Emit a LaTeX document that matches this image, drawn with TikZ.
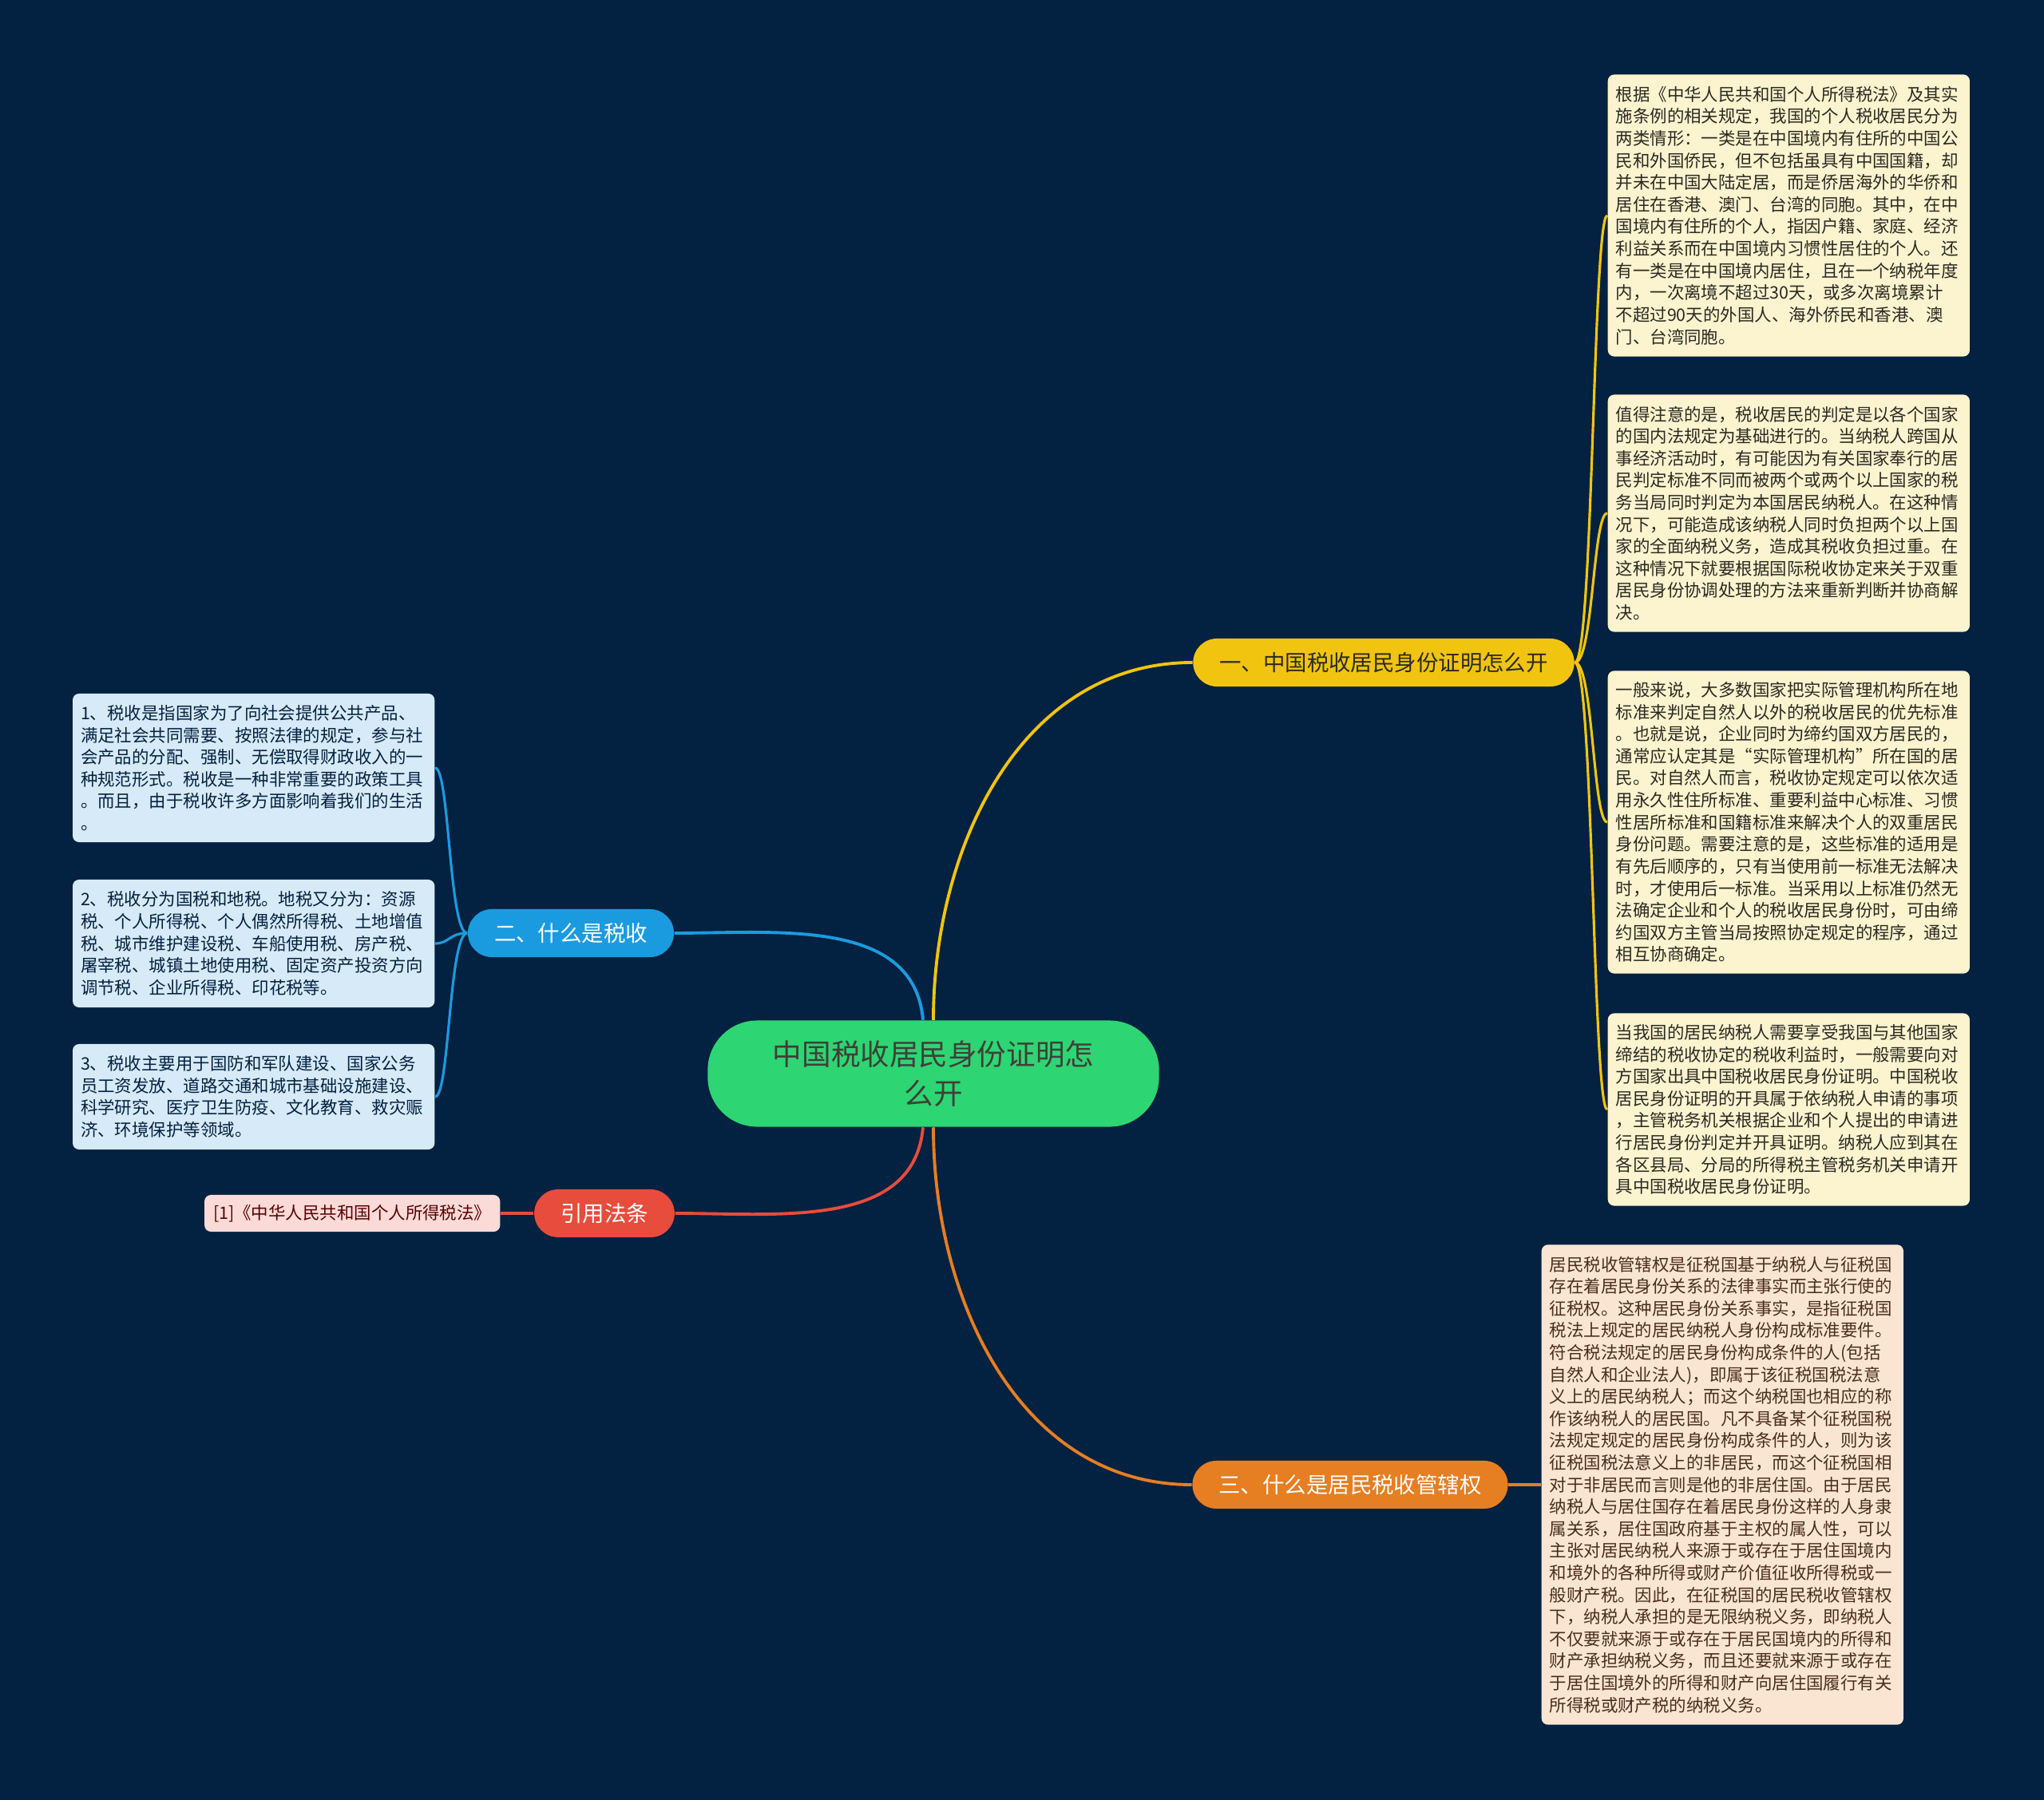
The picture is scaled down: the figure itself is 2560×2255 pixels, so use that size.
\documentclass[tikz,border=0pt]{standalone}
\usepackage{fontspec}
\setmainfont{Noto Sans CJK SC}
\usepackage{tikz}
\usepackage{xcolor}
\usetikzlibrary{positioning}
\definecolor{txnavy}{HTML}{032140}
\definecolor{txgreen}{HTML}{2ED573}
\definecolor{txyellow}{HTML}{F1C40F}
\definecolor{txblue}{HTML}{1A9BE0}
\definecolor{txorange}{HTML}{E67E22}
\definecolor{txred}{HTML}{E74C3C}
\definecolor{txcream}{HTML}{FCF3CF}
\definecolor{txpeach}{HTML}{FAE5D3}
\definecolor{txsky}{HTML}{D6EAF8}
\definecolor{txpink}{HTML}{FADBD8}
\definecolor{txink}{HTML}{2A2A22}
\definecolor{txbrown}{HTML}{4A2E1C}
\tikzset{
  rootNode/.style={fill=txgreen, text=txink!90, rounded corners=0.62cm, minimum width=5.65cm, minimum height=1.33cm, align=center, font=\fontsize{10.4}{13.9}\selectfont},
  topicNode/.style={rounded corners=0.3cm, minimum height=0.6cm, inner xsep=0.33cm, inner ysep=0pt, font=\fontsize{7.8}{9}\selectfont},
  leafNote/.style={rounded corners=0.08cm, text width=4.33cm, inner xsep=0.1cm, inner ysep=0.06cm, align=left, font=\fontsize{6.1}{7.85}\selectfont},
  yellowNote/.style={leafNote, fill=txcream, text=txink},
  peachNote/.style={leafNote, fill=txpeach, text=txbrown},
  skyNote/.style={leafNote, fill=txsky, text=txnavy},
  mainLink/.style={line width=1.1pt},
  subLink/.style={line width=0.9pt}
}
\begin{document}
\begin{tikzpicture}[x=0.01cm,y=-0.01cm]
  \fill[txnavy] (0,0) rectangle (2560,2255);
  % root and main topics
  \node[rootNode] (root) at (1169,1345) {中国税收居民身份证明怎\\么开};
  \node[topicNode, fill=txyellow, text=txink] (certify) at (1733,830) {一、中国税收居民身份证明怎么开};
  \node[topicNode, fill=txblue, text=white] (whatTax) at (715,1169) {二、什么是税收};
  \node[topicNode, fill=txorange, text=white] (power) at (1691,1860) {三、什么是居民税收管辖权};
  \node[topicNode, fill=txred, text=white] (law) at (757,1520) {引用法条};
  % notes on the right
  \node[yellowNote, anchor=west, minimum height=3.53cm] (noteA) at (2013,270) {根据《中华人民共和国个人所得税法》及其实\\施条例的相关规定，我国的个人税收居民分为\\两类情形：一类是在中国境内有住所的中国公\\民和外国侨民，但不包括虽具有中国国籍，却\\并未在中国大陆定居，而是侨居海外的华侨和\\居住在香港、澳门、台湾的同胞。其中，在中\\国境内有住所的个人，指因户籍、家庭、经济\\利益关系而在中国境内习惯性居住的个人。还\\有一类是在中国境内居住，且在一个纳税年度\\内，一次离境不超过30天，或多次离境累计\\不超过90天的外国人、海外侨民和香港、澳\\门、台湾同胞。};
  \node[yellowNote, anchor=west, minimum height=2.97cm] (noteB) at (2013,643) {值得注意的是，税收居民的判定是以各个国家\\的国内法规定为基础进行的。当纳税人跨国从\\事经济活动时，有可能因为有关国家奉行的居\\民判定标准不同而被两个或两个以上国家的税\\务当局同时判定为本国居民纳税人。在这种情\\况下，可能造成该纳税人同时负担两个以上国\\家的全面纳税义务，造成其税收负担过重。在\\这种情况下就要根据国际税收协定来关于双重\\居民身份协调处理的方法来重新判断并协商解\\决。};
  \node[yellowNote, anchor=west, minimum height=3.79cm] (noteC) at (2013,1030) {一般来说，大多数国家把实际管理机构所在地\\标准来判定自然人以外的税收居民的优先标准\\。也就是说，企业同时为缔约国双方居民的，\\通常应认定其是“实际管理机构”所在国的居\\民。对自然人而言，税收协定规定可以依次适\\用永久性住所标准、重要利益中心标准、习惯\\性居所标准和国籍标准来解决个人的双重居民\\身份问题。需要注意的是，这些标准的适用是\\有先后顺序的，只有当使用前一标准无法解决\\时，才使用后一标准。当采用以上标准仍然无\\法确定企业和个人的税收居民身份时，可由缔\\约国双方主管当局按照协定规定的程序，通过\\相互协商确定。};
  \node[yellowNote, anchor=west, minimum height=2.41cm] (noteD) at (2013,1390) {当我国的居民纳税人需要享受我国与其他国家\\缔结的税收协定的税收利益时，一般需要向对\\方国家出具中国税收居民身份证明。中国税收\\居民身份证明的开具属于依纳税人申请的事项\\，主管税务机关根据企业和个人提出的申请进\\行居民身份判定并开具证明。纳税人应到其在\\各区县局、分局的所得税主管税务机关申请开\\具中国税收居民身份证明。};
  \node[peachNote, anchor=west, minimum height=6.01cm] (noteE) at (1930,1860) {居民税收管辖权是征税国基于纳税人与征税国\\存在着居民身份关系的法律事实而主张行使的\\征税权。这种居民身份关系事实，是指征税国\\税法上规定的居民纳税人身份构成标准要件。\\符合税法规定的居民身份构成条件的人(包括\\自然人和企业法人)，即属于该征税国税法意\\义上的居民纳税人；而这个纳税国也相应的称\\作该纳税人的居民国。凡不具备某个征税国税\\法规定规定的居民身份构成条件的人，则为该\\征税国税法意义上的非居民，而这个征税国相\\对于非居民而言则是他的非居住国。由于居民\\纳税人与居住国存在着居民身份这样的人身隶\\属关系，居住国政府基于主权的属人性，可以\\主张对居民纳税人来源于或存在于居住国境内\\和境外的各种所得或财产价值征收所得税或一\\般财产税。因此，在征税国的居民税收管辖权\\下，纳税人承担的是无限纳税义务，即纳税人\\不仅要就来源于或存在于居民国境内的所得和\\财产承担纳税义务，而且还要就来源于或存在\\于居住国境外的所得和财产向居住国履行有关\\所得税或财产税的纳税义务。};
  % notes on the left
  \node[skyNote, anchor=east, minimum height=1.86cm] (taxOne) at (545,962) {1、税收是指国家为了向社会提供公共产品、\\满足社会共同需要、按照法律的规定，参与社\\会产品的分配、强制、无偿取得财政收入的一\\种规范形式。税收是一种非常重要的政策工具\\。而且，由于税收许多方面影响着我们的生活\\。};
  \node[skyNote, anchor=east, minimum height=1.60cm] (taxTwo) at (545,1182) {2、税收分为国税和地税。地税又分为：资源\\税、个人所得税、个人偶然所得税、土地增值\\税、城市维护建设税、车船使用税、房产税、\\屠宰税、城镇土地使用税、固定资产投资方向\\调节税、企业所得税、印花税等。};
  \node[skyNote, anchor=east, minimum height=1.32cm] (taxThree) at (545,1374) {3、税收主要用于国防和军队建设、国家公务\\员工资发放、道路交通和城市基础设施建设、\\科学研究、医疗卫生防疫、文化教育、救灾赈\\济、环境保护等领域。};
  \node[leafNote, text width=, fill=txpink, text=red!35!black, anchor=east, minimum height=0.46cm, inner xsep=0.11cm] (lawRef) at (627,1520) {[1]《中华人民共和国个人所得税法》};
  % links from the root
  \draw[mainLink, txyellow] (root.north) to[out=90, in=180] (certify.west);
  \draw[mainLink, txblue] ([xshift=-0.13cm]root.north) to[out=95, in=0] (whatTax.east);
  \draw[mainLink, txred] ([xshift=-0.13cm]root.south) to[out=-95, in=0] (law.east);
  \draw[mainLink, txorange] (root.south) to[out=-90, in=180] (power.west);
  % links to the notes
  \foreach \n in {noteA,noteB,noteC,noteD}
    \draw[subLink, txyellow] (certify.east) .. controls +(23,0) and +(-18,0) .. (\n.west);
  \foreach \n in {taxOne,taxTwo,taxThree}
    \draw[subLink, txblue] (whatTax.west) .. controls +(-23,0) and +(18,0) .. (\n.east);
  \draw[subLink, txorange] (power.east) -- (noteE.west);
  \draw[subLink, txred] (law.west) -- (lawRef.east);
\end{tikzpicture}
\end{document}
